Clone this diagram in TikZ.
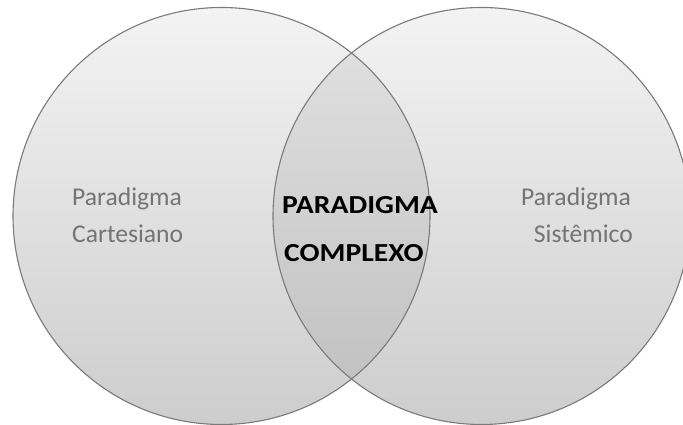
\documentclass[tikz,border=0pt]{standalone}
\usepackage{fontspec}
\setmainfont{Carlito}
\definecolor{fillTop}{HTML}{F3F3F3}
\definecolor{fillBot}{HTML}{CDCDCD}
\definecolor{lensTop}{HTML}{E3E3E3}
\definecolor{lensBot}{HTML}{BEBEBE}
\definecolor{edge}{HTML}{7A7A7A}
\definecolor{txtgray}{HTML}{747474}
\newcommand{\widebold}[1]{\scalebox{1.14}[1]{#1}}
\tikzset{
  side/.style={inner sep=0pt,text=txtgray,font=\fontsize{25.6}{30}\selectfont},
  mid/.style={inner sep=0pt,text=black,font=\fontsize{26}{30}\selectfont\bfseries},
  ring/.style={draw=edge,line width=1.1pt}
}
\begin{document}
\begin{tikzpicture}[x=1pt,y=1pt]
\useasboundingbox (0,0) rectangle (683,425);
\clip (0,0) rectangle (683,425);
\fill[white] (0,0) rectangle (683,425);
\coordinate (cl) at (221.5,209);
\coordinate (cr) at (481.5,209);
\shade[top color=fillTop,bottom color=fillBot] (cl) circle (208.5);
\shade[top color=fillTop,bottom color=fillBot] (cr) circle (208.5);
\begin{scope}
  \clip (cl) circle (208.5);
  \shade[top color=lensTop,bottom color=lensBot] (cr) circle (208.5);
\end{scope}
\draw[ring] (cl) circle (208.5);
\draw[ring] (cr) circle (208.5);
\node[side,anchor=base west] (l1) at (72,219.5) {Paradigma};
\node[side,anchor=base west] (l2) at (72,182) {Cartesiano};
\node[side,anchor=base east] (r1) at (631,219.5) {Paradigma};
\node[side,anchor=base east] (r2) at (633,182) {Sistêmico};
\node[mid,anchor=base west] (c1) at (282,211.7) {\widebold{PARADIGMA}};
\node[mid,anchor=base west] (c2) at (284,163) {\widebold{COMPLEXO}};
\end{tikzpicture}
\end{document}
